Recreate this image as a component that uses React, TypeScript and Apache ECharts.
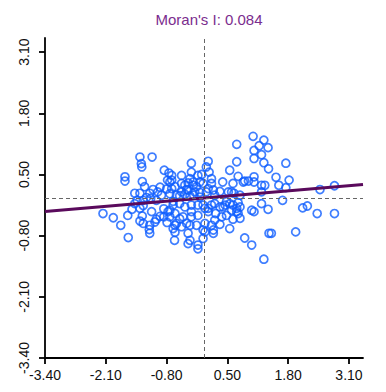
import React, { useEffect, useRef } from "react";
import * as echarts from "echarts";

const titleText = "Moran's I: 0.084";
const moranSlope = 0.084;
const axisMin = -3.4;
const axisMax = 3.4;
const tickValues = [-3.4, -2.1, -0.8, 0.5, 1.8, 3.1];

// [standardized value, spatial lag]
const leftCluster: [number, number][] = [
  [-2.16, -0.33], [-1.94, -0.42], [-1.78, -0.58], [-1.62, -0.84], [-1.63, -0.37],
  [-1.54, -0.24], [-1.69, 0.45], [-1.69, 0.36], [-1.37, 0.87], [-1.11, 0.87],
  [-1.34, 0.73], [-1.33, 0.66], [-0.85, 0.59], [-0.75, 0.53], [-0.78, 0.38],
  [-0.73, 0.34], [-1.32, 0.35], [-1.27, 0.24], [-1.09, 0.18], [-0.94, 0.23],
  [-0.8, 0.19], [-1.48, 0.1], [-1.37, 0.1], [-1.16, 0.1], [-0.99, 0.13],
  [-0.73, 0.09], [-1.23, 0.01], [-1.14, -0.01], [-1.43, -0.05], [-1.3, -0.05],
  [-0.91, 0.06], [-1.02, -0.05], [-1.37, -0.49], [-1.32, -0.38], [-1.3, -0.54],
  [-1.16, -0.58], [-1.17, -0.67], [-1.16, -0.75], [-1.02, -0.45], [-0.94, -0.39],
  [-0.86, -0.23], [-0.86, -0.4], [-0.79, -0.52], [-1.48, -0.12], [-1.3, -0.16],
  [-0.73, -0.26], [-1.37, -0.22], [-0.73, -0.4], [-1.12, -0.29], [-1.05, -0.51],
];

const centerLow: [number, number][] = [
  [-0.66, -0.65], [-0.63, -0.9], [-0.62, -0.73], [-0.66, -0.15], [-0.52, -0.12],
  [-0.41, -0.19], [-0.27, -0.15], [-0.13, -0.15], [-0.62, -0.33], [-0.45, -0.4],
  [-0.27, -0.29], [-0.27, -0.4], [-0.13, -0.37], [0.02, -0.22], [0.16, -0.15],
  [0.34, -0.19], [0.45, -0.15], [0.55, -0.12], [0.73, -0.1], [0.7, -0.22],
  [0.59, -0.26], [0.73, -0.33], [0.48, -0.37], [0.62, -0.45], [0.77, -0.43],
  [0.38, -0.4], [0.23, -0.47], [0.16, -0.58], [0.34, -0.56], [0.55, -0.65],
  [0.02, -0.54], [-0.02, -0.68], [-0.02, -0.86], [0.2, -0.68], [0.2, -0.75],
  [-0.59, -0.54], [-0.37, -0.54], [-0.34, -0.75], [-0.3, -0.9], [-0.16, -0.58],
  [-0.13, -1.0], [-0.13, -1.08], [-0.48, -0.61], [-0.52, -0.44], [-0.34, -0.97],
  [0.87, -0.85], [1.02, -1.0], [1.02, -0.26], [0.25, -0.33], [0.09, -0.22],
  [0.62, -0.15], [0.7, -0.29], [0.48, -0.08], [0.41, -0.19], [0.23, -0.12],
  [-0.66, -0.07], [-0.02, -0.15], [0.77, -0.19], [-0.77, -0.29], [0.09, -0.29],
  [-0.62, -0.58], [-0.3, -0.58], [0.02, -0.72],
];

const centerHigh: [number, number][] = [
  [-0.27, 0.74], [0.09, 0.78], [0.05, 0.66], [0.11, 0.55], [-0.27, 0.55],
  [-0.48, 0.48], [-0.13, 0.48], [-0.05, 0.5], [0.16, 0.41], [-0.69, 0.48],
  [-0.69, 0.38], [-0.3, 0.41], [-0.23, 0.34], [-0.41, 0.27], [-0.16, 0.24],
  [-0.02, 0.31], [0.09, 0.2], [0.2, 0.17], [0.34, 0.14], [0.59, 0.13],
  [-0.48, 0.13], [-0.34, 0.17], [-0.2, 0.13], [-0.69, 0.2], [-0.41, 0.08],
  [-0.22, 0.06], [-0.09, 0.12], [-0.59, 0.06], [-0.48, 0.31], [-0.34, 0.32],
  [0.4, 0.34], [0.55, 0.59], [0.7, 0.77], [0.7, 1.14], [0.73, 0.46],
  [0.62, 0.31], [0.87, 0.36], [0.95, 0.36], [0.23, 0.06], [0.52, 0.13],
  [0.64, 0.1], [0.77, 0.06], [0.84, 0.34], [-0.23, 0.27], [-0.09, 0.34],
  [0.16, 0.31], [-0.62, 0.24], [-0.37, 0.18], [0.05, 0.13], [-0.52, 0.05],
  [-0.3, 0.04], [-0.09, 0.02],
];

const rightCluster: [number, number][] = [
  [1.05, 1.31], [1.28, 1.23], [1.18, 1.11], [1.37, 1.07], [1.07, 1.01],
  [1.23, 0.92], [1.07, 0.84], [1.28, 0.75], [1.38, 0.62], [1.75, 0.74],
  [1.54, 0.44], [1.82, 0.38], [1.6, 0.27], [1.75, 0.22], [1.07, 0.45],
  [1.07, 0.34], [1.23, 0.27], [1.3, 0.27], [1.23, 0.13], [2.48, 0.18],
  [2.79, 0.26], [1.68, -0.05], [1.23, -0.12], [1.07, -0.29], [1.37, -0.24],
  [2.11, -0.21], [2.21, -0.17], [2.42, -0.33], [2.79, -0.33], [1.39, -0.75],
  [1.44, -0.75], [1.96, -0.72], [1.28, -1.3],
];

const FONT = "'Liberation Sans', Arial, Helvetica, sans-serif";

export default function App() {
  const ref = useRef<HTMLDivElement>(null);
  useEffect(() => {
    if (!ref.current) return;
    const chart = echarts.init(ref.current, null, { renderer: "svg" });
    const points = [...leftCluster, ...centerLow, ...centerHigh, ...rightCluster];
    const axisCommon = {
      type: "value",
      min: axisMin,
      max: axisMax,
      splitLine: { show: false },
      axisLine: { show: true, onZero: false, lineStyle: { color: "#000", width: 1.8 } },
      axisTick: {
        show: true,
        length: 6,
        customValues: tickValues,
        lineStyle: { color: "#000", width: 1.8 },
      },
    };
    chart.setOption({
      animation: false,
      backgroundColor: "#ffffff",
      title: {
        text: titleText,
        left: 204,
        top: 7,
        textAlign: "center",
        textStyle: { color: "#7b2d8e", fontSize: 15, fontWeight: "normal", fontFamily: FONT },
      },
      grid: { left: 45, right: 23, top: 38, bottom: 34 },
      xAxis: {
        ...axisCommon,
        axisLabel: {
          customValues: tickValues,
          formatter: (v: number) => v.toFixed(2),
          fontSize: 14,
          color: "#111",
          margin: 10,
          fontFamily: FONT,
        },
      },
      yAxis: {
        ...axisCommon,
        axisLabel: {
          customValues: tickValues,
          formatter: (v: number) => v.toFixed(2),
          fontSize: 14,
          color: "#111",
          margin: 14,
          rotate: 90,
          fontFamily: FONT,
        },
      },
      series: [
        {
          type: "scatter",
          data: [],
          z: 1,
          silent: true,
          markLine: {
            silent: true,
            symbol: ["none", "none"],
            label: { show: false },
            lineStyle: { color: "#666666", type: [4, 3], width: 1 },
            data: [{ xAxis: 0 }, { yAxis: 0 }],
          },
        },
        {
          type: "scatter",
          data: points,
          symbol: "circle",
          symbolSize: 8,
          itemStyle: { color: "rgba(0,0,0,0)", borderColor: "#0f5eff", borderWidth: 1.7 },
          z: 3,
        },
        {
          type: "line",
          data: [
            [axisMin, moranSlope * axisMin],
            [axisMax, moranSlope * axisMax],
          ],
          showSymbol: false,
          symbol: "none",
          lineStyle: { color: "#5a0a5c", width: 3 },
          z: 4,
          silent: true,
        },
      ],
    });
    return () => chart.dispose();
  }, []);
  return (
    <div
      ref={ref}
      style={{ position: "fixed", left: 0, top: 0, width: 386, height: 392, background: "#fff" }}
    />
  );
}
